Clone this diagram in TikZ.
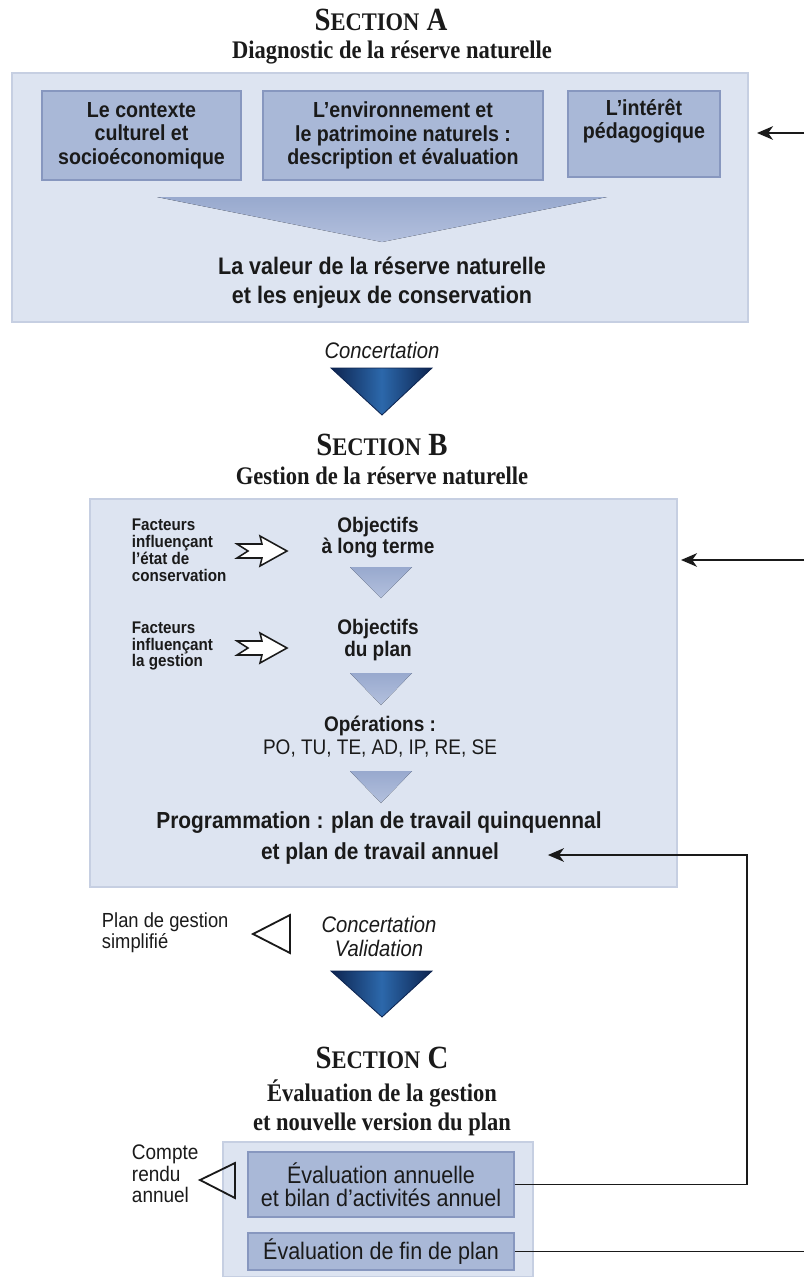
\documentclass[tikz,border=0pt]{standalone}
\usepackage{fontspec}
\setsansfont{Liberation Sans}[FakeStretch=0.9]
\newfontfamily\headfont{Liberation Serif}[FakeStretch=0.89]
\usetikzlibrary{arrows.meta,positioning,calc}
\definecolor{zonefill}{HTML}{DDE4F1}
\definecolor{zoneedge}{HTML}{C6CFE2}
\definecolor{tilefill}{HTML}{A9B8D7}
\definecolor{tileedge}{HTML}{8797BF}
\definecolor{wedgetop}{HTML}{98A9CE}
\definecolor{wedgelow}{HTML}{B3C0DD}
\definecolor{navydark}{HTML}{0D2450}
\definecolor{navylight}{HTML}{2C68AB}
\definecolor{ink}{HTML}{1A1A1A}
\newcommand{\sechead}[1]{S{\fontsize{18}{20}\selectfont ECTION} #1}
\tikzset{
  zone/.style={fill=zonefill,draw=zoneedge,line width=1pt,inner sep=0pt},
  tile/.style={fill=tilefill,draw=tileedge,line width=1pt,inner sep=2pt,
               align=center,text=ink},
  sectitle/.style={font=\headfont\bfseries\fontsize{23}{25}\selectfont,
                   inner sep=0pt,text=ink},
  secsub/.style={font=\headfont\bfseries\fontsize{18}{21}\selectfont,
                 inner sep=0pt,align=center,text=ink},
  tiletxt/.style={font=\sffamily\bfseries\fontsize{15.5}{16.7}\selectfont},
  evaltxt/.style={font=\sffamily\fontsize{17}{16.5}\selectfont},
  valtxt/.style={font=\sffamily\bfseries\fontsize{17}{20.6}\selectfont,
                 align=center,text=ink},
  objtxt/.style={font=\sffamily\bfseries\fontsize{15}{15}\selectfont,
                 align=center,text=ink},
  optxt/.style={font=\sffamily\fontsize{15}{16.4}\selectfont,
                align=center,text=ink},
  progtxt/.style={font=\sffamily\bfseries\fontsize{16.5}{21}\selectfont,text=ink},
  factxt/.style={font=\sffamily\bfseries\fontsize{12}{12}\selectfont,
                 align=left,anchor=west,text=ink},
  sidetxt/.style={font=\sffamily\fontsize{14.5}{15}\selectfont,
                  align=left,anchor=west,text=ink},
  conctxt/.style={font=\sffamily\itshape\fontsize{16}{17}\selectfont,
                  align=center,text=ink},
  wedge/.style={top color=wedgetop,bottom color=wedgelow,draw=none},
  bigwedge/.style={left color=navydark,right color=navydark,
                   middle color=navylight,draw=navydark,line width=0.6pt},
  hollowarr/.style={draw=ink,fill=white,line width=1.1pt,line join=miter},
  hollowtri/.style={draw=ink,line width=1.3pt,line join=miter},
  flowarr/.style={-{Stealth[length=4mm,width=3.4mm,inset=1.2mm]},
                  draw=ink,line width=1.2pt}
}

\begin{document}
\begin{tikzpicture}[x=0.025cm,y=-0.025cm]
  \useasboundingbox (0,0) rectangle (804,1277);

  % section A
  \node[sectitle] (secA) at (381,20) {\sechead{A}};
  \node[secsub] (subA) at (392,52) {Diagnostic de la réserve naturelle};
  \node[zone,minimum width=18.4cm,minimum height=6.225cm] (zoneA) at (380,197.5) {};
  \node[tile,tiletxt,minimum width=4.975cm,minimum height=2.225cm] (ctx) at (141.5,135.5)
    {Le contexte\\culturel et\\socioéconomique};
  \node[tile,tiletxt,minimum width=7cm,minimum height=2.225cm] (env) at (403,135.5)
    {L'environnement et\\le patrimoine naturels :\\description et évaluation};
  \node[tile,tiletxt,minimum width=3.8cm,minimum height=2.15cm] (ped) at (644,134)
    {L'intérêt\\pédagogique\\\strut};
  \fill[wedge] (157,197) -- (607,197) -- (382,242) -- cycle;
  \node[valtxt] (valeur) at (382,282.5)
    {La valeur de la réserve naturelle\\et les enjeux de conservation};
  \coordinate (edgeA) at (804,133);
  \coordinate (inA) at (757,133);
  \draw[flowarr] (edgeA) -- (inA);

  \node[conctxt] (conc1) at (382,350) {Concertation};
  \shade[bigwedge] (331,368) -- (432,368) -- (382,415) -- cycle;

  % section B
  \node[sectitle] (secB) at (382,445) {\sechead{B}};
  \node[secsub] (subB) at (382,476) {Gestion de la réserve naturelle};
  \node[zone,minimum width=14.675cm,minimum height=9.7cm] (zoneB) at (383.5,693) {};
  \node[factxt] (fac1) at (127,550) {Facteurs\\influençant\\l'état de\\conservation};
  \draw[hollowarr] (237,544) -- (262,544) -- (260,536) -- (287,551) -- (260,566)
    -- (262,558) -- (237,558) -- (248,551) -- cycle;
  \node[objtxt] (objlong) at (378,538) {Objectifs\\à long terme};
  \fill[wedge] (350,567) -- (412,567) -- (381,598) -- cycle;
  \node[factxt] (fac2) at (127,646) {Facteurs\\influençant\\la gestion};
  \draw[hollowarr] (237,641) -- (262,641) -- (260,633) -- (287,648) -- (260,663)
    -- (262,655) -- (237,655) -- (248,648) -- cycle;
  \node[objtxt] (objplan) at (378,640) {Objectifs\\du plan};
  \fill[wedge] (350,673) -- (412,673) -- (381,705) -- cycle;
  \node[optxt] (ops) at (380,736.5) {\textbf{Opérations :}\\PO, TU, TE, AD, IP, RE, SE};
  \fill[wedge] (350,771) -- (412,771) -- (381,803) -- cycle;
  \node[progtxt] (progA) at (379,823) {Programmation : plan de travail quinquennal};
  \node[progtxt] (progB) at (380,853) {et plan de travail annuel};
  \coordinate (edgeB) at (804,560);
  \coordinate (inB) at (681,560);
  \draw[flowarr] (edgeB) -- (inB);

  \node[sidetxt] (simple) at (97,933) {Plan de gestion\\simplifié};
  \draw[hollowtri] (290,915) -- (253,934) -- (290,953) -- cycle;
  \node[conctxt] (conc2) at (379,936) {Concertation\\Validation};
  \shade[bigwedge] (331,971) -- (432,971) -- (382,1017) -- cycle;

  % section C
  \node[sectitle] (secC) at (382,1058) {\sechead{C}};
  \node[secsub] (subC) at (382,1108) {Évaluation de la gestion\\et nouvelle version du plan};
  \node[zone,minimum width=7.75cm,minimum height=3.375cm] (zoneC) at (378,1209.5) {};
  \node[tile,evaltxt,minimum width=6.65cm,minimum height=1.625cm] (ev1) at (381,1184.5)
    {Évaluation annuelle\\et bilan d'activités annuel};
  \node[tile,evaltxt,minimum width=6.65cm,minimum height=0.925cm] (ev2) at (381,1251.5)
    {Évaluation de fin de plan};
  \node[sidetxt,font=\sffamily\fontsize{15}{15.3}\selectfont] (compte) at (127,1174)
    {Compte\\rendu\\annuel};
  \draw[hollowtri] (235,1163) -- (200,1180) -- (235,1198) -- cycle;

  % feedback lines
  \coordinate (rail) at (747,855);
  \coordinate (edgeC) at (804,1251.5);
  \draw[flowarr] (ev1.east) -| (rail) -- ($(progB.east)+(44,2)$);
  \draw[ink,line width=1.2pt] (ev2.east) -- (ev2.east -| edgeC);
\end{tikzpicture}
\end{document}
